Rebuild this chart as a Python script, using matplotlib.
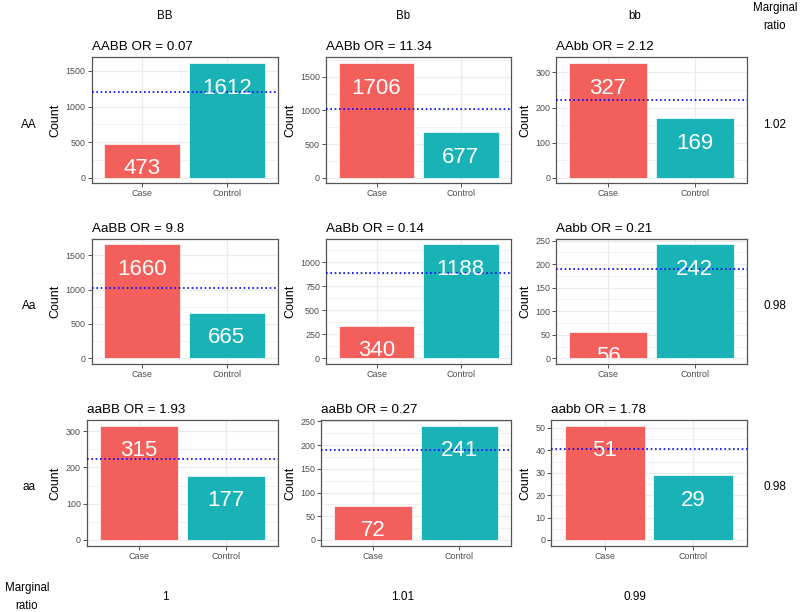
import matplotlib
matplotlib.use("Agg")
import matplotlib.pyplot as plt
from matplotlib.ticker import FixedLocator

plt.rcParams['font.family'] = ['Liberation Sans', 'DejaVu Sans']

# ---------------- data ----------------
row_genotypes = ['AA', 'Aa', 'aa']
col_genotypes = ['BB', 'Bb', 'bb']
groups = ['Case', 'Control']
case_counts = [[473, 1706, 327],
               [1660, 340, 56],
               [315, 72, 51]]
control_counts = [[1612, 677, 169],
                  [665, 1188, 242],
                  [177, 241, 29]]
or_labels = [['0.07', '11.34', '2.12'],
             ['9.8', '0.14', '0.21'],
             ['1.93', '0.27', '1.78']]
ref_lines = [[1200, 1025, 221],
             [1029, 886, 189],
             [222, 190, 40.4]]
y_ticks = [[[0, 500, 1000, 1500], [0, 500, 1000, 1500], [0, 100, 200, 300]],
           [[0, 500, 1000, 1500], [0, 250, 500, 750, 1000], [0, 50, 100, 150, 200, 250]],
           [[0, 100, 200, 300], [0, 50, 100, 150, 200, 250], [0, 10, 20, 30, 40, 50]]]
row_ratio = ['1.02', '0.98', '0.98']
col_ratio = ['1', '1.01', '0.99']

# ---------------- style ----------------
W, H = 800, 612
case_color = '#F35F5B'
control_color = '#19B3B7'
grid_color = '#EBEBEB'
tick_color = '#4D4D4D'

fig = plt.figure(figsize=(W / 100, H / 100), dpi=100)

col_right = [277.5, 511.3, 746.7]
col_left4 = [91.7, 326.0, 561.0]
row_top = [57.3, 238.7, 420.0]
row_bottom = [183.3, 364.0, 545.7]


def px(x0, y0, x1, y1):
    return [x0 / W, 1 - y1 / H, (x1 - x0) / W, (y1 - y0) / H]


for r in range(3):
    for c in range(3):
        ticks = y_ticks[r][c]
        ndig = len(str(max(ticks)))
        left = col_left4[c] - 4.8 * (4 - ndig)
        ax = fig.add_axes(px(left, row_top[r], col_right[c], row_bottom[r]))
        vals = [case_counts[r][c], control_counts[r][c]]
        xs = [1, 2]
        ax.bar(xs, vals, width=0.9, color=[case_color, control_color],
               edgecolor='white', linewidth=0.5, zorder=2)
        ymax = max(vals)
        ax.set_ylim(-0.05 * ymax, 1.05 * ymax)
        ax.set_xlim(0.4, 2.6)
        ax.set_xticks(xs)
        ax.set_xticklabels(groups)
        ax.yaxis.set_major_locator(FixedLocator(ticks))
        step = ticks[1] - ticks[0]
        minors = [t + step / 2 for t in ticks] + [ticks[0] - step / 2]
        ax.yaxis.set_minor_locator(FixedLocator(minors))
        ax.grid(True, which='major', color=grid_color, linewidth=0.9, zorder=0)
        ax.grid(True, which='minor', axis='y', color=grid_color, linewidth=0.5, zorder=0)
        ax.set_axisbelow(True)
        ax.tick_params(which='major', length=2.75, width=0.6, color='#333333',
                       labelsize=6.4, labelcolor=tick_color, pad=1.5)
        ax.tick_params(which='minor', length=0)
        for s in ax.spines.values():
            s.set_color('#555555')
            s.set_linewidth(0.9)
        ax.set_ylabel('Count', fontsize=9, labelpad=3)
        ax.set_title(f'{row_genotypes[r]}{col_genotypes[c]} OR = {or_labels[r][c]}',
                     loc='left', fontsize=9.6, pad=5)
        ax.axhline(ref_lines[r][c], color='blue', linewidth=1.2,
                   linestyle=(0, (1, 1.6)), zorder=4)
        for x, v in zip(xs, vals):
            ax.annotate(str(v), (x, v), xytext=(0, -18), textcoords='offset points',
                        ha='center', va='center', color='white', fontsize=16, zorder=5)

# column headers
col_hdr_x = [165, 403, 635]
for c in range(3):
    fig.text(col_hdr_x[c] / W, 1 - 16 / H, col_genotypes[c], ha='center', va='center', fontsize=8.3)
fig.text(775 / W, 1 - 17 / H, 'Marginal\nratio', ha='center', va='center', fontsize=8.3,
         linespacing=1.6)

# row labels
row_y = [125, 306, 487]
for r in range(3):
    fig.text(29 / W, 1 - row_y[r] / H, row_genotypes[r], ha='center', va='center', fontsize=8.5)
    fig.text(775 / W, 1 - row_y[r] / H, row_ratio[r], ha='center', va='center', fontsize=8.5)

# bottom marginal ratios
fig.text(27 / W, 1 - 597 / H, 'Marginal\nratio', ha='center', va='center', fontsize=8.3,
         linespacing=1.6)
for c in range(3):
    fig.text(col_hdr_x[c] / W, 1 - 597 / H, col_ratio[c], ha='center', va='center', fontsize=8.5)

fig.savefig('out.png', dpi=100)
